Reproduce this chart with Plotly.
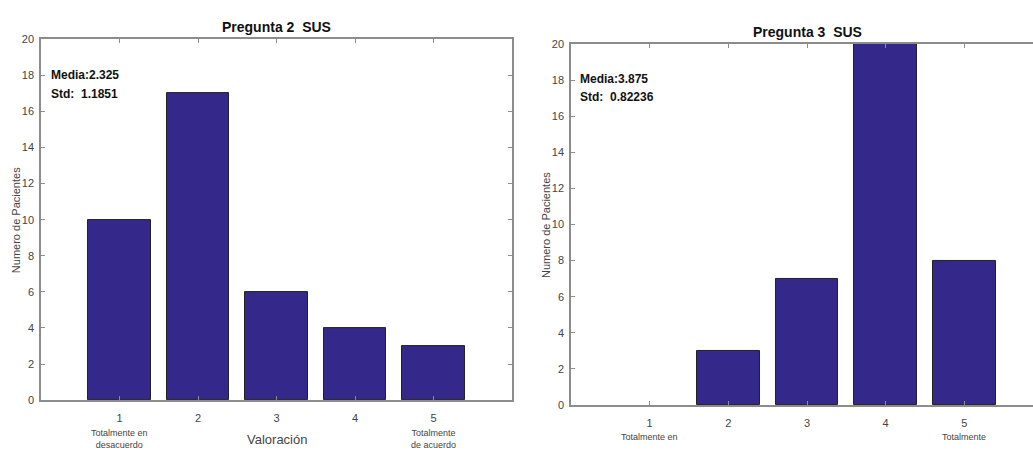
import plotly.graph_objects as go

# Respuestas por valoración (1 = totalmente en desacuerdo ... 5 = totalmente de acuerdo)
valoracion = [1, 2, 3, 4, 5]
pregunta2 = [10, 17, 6, 4, 3]
pregunta3 = [0, 3, 7, 22, 8]

titulo2 = "Pregunta 2  SUS"
titulo3 = "Pregunta 3  SUS"
stats2 = ["Media:2.325", "Std:  1.1851"]
stats3 = ["Media:3.875", "Std:  0.82236"]

W, H = 1033, 450
BAR = "#34298a"
AX = "#8c8c8c"
TXT = "#444444"
FONT = "Liberation Sans, Arial, sans-serif"


def px(x):
    return x / W


def py(y):
    return (H - y) / H


def edge_widths(vals):
    # no outline on empty bars
    return [0 if v == 0 else 1 for v in vals]


fig = go.Figure()
fig.add_trace(go.Bar(x=valoracion, y=pregunta2, width=0.8,
                     marker=dict(color=BAR, line=dict(color="#222222", width=edge_widths(pregunta2))),
                     xaxis="x", yaxis="y", showlegend=False))
fig.add_trace(go.Bar(x=valoracion, y=pregunta3, width=0.8,
                     marker=dict(color=BAR, line=dict(color="#222222", width=edge_widths(pregunta3))),
                     xaxis="x2", yaxis="y2", showlegend=False))

common = dict(showline=True, linecolor=AX, linewidth=1.5, ticks="inside", tickcolor=AX, ticklen=4,
              showgrid=False, zeroline=False, tickfont=dict(family=FONT, size=11, color=TXT))

# right panel keeps the 0..6 unit scale of the left one, cut at the page edge
x2_end = (W - 571) / ((W - 571 + 10) / 6.0)

fig.update_layout(
    width=W, height=H, margin=dict(l=0, r=0, t=0, b=0),
    paper_bgcolor="white", plot_bgcolor="white", bargap=0,
    font=dict(family=FONT, color=TXT),
    xaxis=dict(domain=[px(41), px(512)], range=[0, 6], tickvals=valoracion, anchor="y",
               mirror="ticks", ticklabelstandoff=7, **common),
    yaxis=dict(domain=[py(405), py(34)], range=[0, 20], dtick=2, anchor="x",
               mirror="ticks", ticklabelstandoff=3, **common),
    xaxis2=dict(domain=[px(571), 1.0], range=[0, x2_end], tickvals=valoracion, anchor="y2",
                mirror="ticks", ticklabelstandoff=7, **common),
    yaxis2=dict(domain=[py(410), py(39)], range=[0, 20], dtick=2, anchor="x2",
                ticklabelstandoff=3, **common),
)

ann = []
# titles
ann.append(dict(text="<b>" + titulo2 + "</b>", x=px(276), y=py(22), font=dict(size=14, color="#111111")))
ann.append(dict(text="<b>" + titulo3 + "</b>", x=px(807), y=py(27), font=dict(size=14, color="#111111")))
# statistics
for i, s in enumerate(stats2):
    ann.append(dict(text="<b>" + s + "</b>", x=px(49), y=py(71 + 19 * i), xanchor="left",
                    font=dict(size=12, color="#111111")))
for i, s in enumerate(stats3):
    ann.append(dict(text="<b>" + s + "</b>", x=px(578), y=py(75 + 19 * i), xanchor="left",
                    font=dict(size=12, color="#111111")))
# y axis titles
ann.append(dict(text="Numero de Pacientes", x=px(16), y=py(220), textangle=-90, font=dict(size=11, color=TXT)))
ann.append(dict(text="Numero de Pacientes", x=px(546), y=py(225), textangle=-90, font=dict(size=11, color=TXT)))
# x axis labels
ann.append(dict(text="Valoración", x=px(277), y=py(445), font=dict(size=13, color=TXT)))
ann.append(dict(text="Totalmente en<br>desacuerdo", x=1, xref="x", y=py(445), font=dict(size=9, color=TXT)))
ann.append(dict(text="Totalmente<br>de acuerdo", x=5, xref="x", y=py(445), font=dict(size=9, color=TXT)))
ann.append(dict(text="Totalmente en", x=1, xref="x2", y=py(443), font=dict(size=9, color=TXT)))
ann.append(dict(text="Totalmente", x=5, xref="x2", y=py(443), font=dict(size=9, color=TXT)))

for a in ann:
    a.setdefault("xref", "paper")
    a["yref"] = "paper"
    a["showarrow"] = False
    a.setdefault("xanchor", "center")
    a.setdefault("yanchor", "middle")
    a["font"]["family"] = FONT

fig.update_layout(annotations=ann)
fig.write_html("out.html")
